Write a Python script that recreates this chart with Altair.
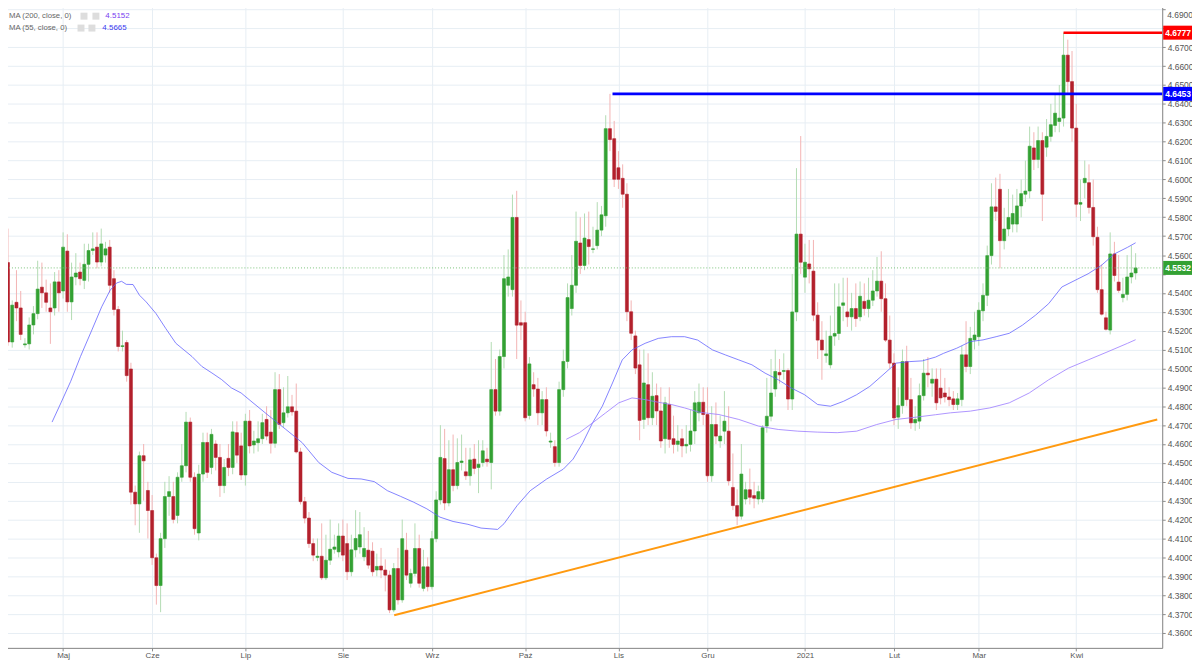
import altair as alt
import pandas as pd

# ---------------- data ----------------
open_ = [
    4.556, 4.514, 4.535, 4.532, 4.5125, 4.513, 4.523, 4.529, 4.543, 4.540,
    4.532, 4.532, 4.5458, 4.541, 4.5621, 4.5352, 4.5484, 4.5510, 4.5466, 4.5551,
    4.5624, 4.5642, 4.5563, 4.5600, 4.5642, 4.5475, 4.5312, 4.5116, 4.5137, 4.4997,
    4.4345, 4.4283, 4.4538, 4.4354, 4.4248, 4.3998, 4.3851, 4.4099, 4.4322, 4.4322,
    4.4222, 4.4424, 4.4485, 4.4716, 4.4424, 4.4129, 4.4441, 4.4608, 4.4476, 4.4600,
    4.4529, 4.4380, 4.4524, 4.4476, 4.4660, 4.4590, 4.4436, 4.4721, 4.4595, 4.4607,
    4.4628, 4.4730, 4.4663, 4.4604, 4.4888, 4.4713, 4.4765, 4.4797, 4.4774, 4.4558,
    4.4295, 4.4208, 4.4073, 4.4000, 4.4006, 4.3892, 4.3985, 4.4043, 4.4029, 4.4113,
    4.4073, 4.3924, 4.4040, 4.4055, 4.4003, 4.4038, 4.4033, 4.3933, 4.3954, 4.3933,
    4.3906, 4.3722, 4.3941, 4.3775, 4.4038, 4.3863, 4.3915, 4.4047, 4.3836, 4.3950,
    4.3845, 4.4099, 4.4304, 4.4523, 4.4288, 4.4464, 4.4380, 4.4502, 4.4453, 4.4432,
    4.4520, 4.4476, 4.4502, 4.4520, 4.4502, 4.4888, 4.4774, 4.5063, 4.5440, 4.5417,
    4.5799, 4.5242, 4.5242, 4.4751, 4.4914, 4.4891, 4.4765, 4.4835, 4.4610, 4.4586,
    4.4502, 4.4888, 4.5037, 4.5317, 4.5440, 4.5664, 4.5545, 4.5682, 4.5630, 4.5650,
    4.5732, 4.5808, 4.6269, 4.6216, 4.6062, 4.6006, 4.5922, 4.5300, 4.5172, 4.5019,
    4.4730, 4.4914, 4.4739, 4.4856, 4.4775, 4.4628, 4.4809, 4.4628, 4.4598, 4.4628,
    4.4590, 4.4598, 4.4669, 4.4765, 4.4821, 4.4756, 4.4432, 4.4703, 4.4616, 4.4668,
    4.4668, 4.4370, 4.4274, 4.4218, 4.4309, 4.4358, 4.4327, 4.4309, 4.4309, 4.4695,
    4.4747, 4.4891, 4.4979, 4.4984, 4.4989, 4.4838, 4.5299, 4.5711, 4.5483, 4.5553,
    4.5515, 4.5282, 4.5150, 4.5068, 4.5019, 4.5171, 4.5185, 4.5334, 4.5299, 4.5273,
    4.5317, 4.5273, 4.5355, 4.5317, 4.5361, 4.5410, 4.5462, 4.5369, 4.5150, 4.5028,
    4.4742, 4.4803, 4.5036, 4.4835, 4.4712, 4.4721, 4.4856, 4.4975, 4.4922, 4.4943,
    4.4896, 4.4870, 4.4849, 4.4839, 4.4809, 4.4835, 4.5072, 4.5010, 4.5151, 4.5168,
    4.5305, 4.5387, 4.5597, 4.5855, 4.5948, 4.5676, 4.5738, 4.5764, 4.5764, 4.5860,
    4.5922, 4.5939, 4.6167, 4.6106, 4.6206, 4.6171, 4.6228, 4.6286, 4.6307, 4.6325,
    4.6658, 4.6518, 4.6272, 4.5869, 4.5983, 4.5983, 4.5852, 4.5694, 4.5417, 4.5268,
    4.5203, 4.5606, 4.5457, 4.5375, 4.5392, 4.5484, 4.5505,
]
high = [
    4.574, 4.536, 4.552, 4.541, 4.516, 4.527, 4.533, 4.557, 4.556, 4.547,
    4.545, 4.551, 4.552, 4.572, 4.571, 4.556, 4.561, 4.556, 4.566, 4.566,
    4.572, 4.572, 4.574, 4.567, 4.568, 4.552, 4.533, 4.520, 4.515, 4.503,
    4.438, 4.456, 4.460, 4.440, 4.433, 4.402, 4.413, 4.440, 4.443, 4.440,
    4.445, 4.460, 4.477, 4.474, 4.445, 4.449, 4.466, 4.466, 4.468, 4.462,
    4.460, 4.452, 4.460, 4.472, 4.472, 4.466, 4.476, 4.478, 4.467, 4.472,
    4.476, 4.480, 4.478, 4.498, 4.497, 4.490, 4.496, 4.486, 4.492, 4.458,
    4.432, 4.424, 4.410, 4.410, 4.418, 4.412, 4.420, 4.412, 4.418, 4.420,
    4.418, 4.412, 4.425, 4.424, 4.416, 4.414, 4.408, 4.402, 4.405, 4.399,
    4.393, 4.397, 4.405, 4.420, 4.413, 4.394, 4.418, 4.412, 4.404, 4.400,
    4.414, 4.435, 4.470, 4.468, 4.462, 4.465, 4.463, 4.465, 4.458, 4.458,
    4.460, 4.462, 4.462, 4.458, 4.514, 4.505, 4.510, 4.560, 4.563, 4.592,
    4.594, 4.536, 4.530, 4.506, 4.498, 4.495, 4.488, 4.490, 4.466, 4.462,
    4.493, 4.510, 4.545, 4.560, 4.583, 4.580, 4.582, 4.583, 4.575, 4.588,
    4.586, 4.634, 4.6453, 4.631, 4.615, 4.608, 4.598, 4.536, 4.520, 4.510,
    4.510, 4.508, 4.498, 4.492, 4.490, 4.485, 4.490, 4.475, 4.470, 4.468,
    4.470, 4.478, 4.488, 4.492, 4.490, 4.490, 4.480, 4.482, 4.475, 4.488,
    4.480, 4.455, 4.436, 4.460, 4.440, 4.447, 4.440, 4.438, 4.470, 4.495,
    4.505, 4.510, 4.505, 4.508, 4.500, 4.550, 4.606, 4.623, 4.566, 4.568,
    4.568, 4.535, 4.525, 4.520, 4.528, 4.545, 4.545, 4.548, 4.548, 4.540,
    4.545, 4.546, 4.545, 4.548, 4.552, 4.559, 4.562, 4.545, 4.528, 4.508,
    4.490, 4.510, 4.512, 4.495, 4.480, 4.492, 4.505, 4.506, 4.500, 4.500,
    4.500, 4.495, 4.490, 4.488, 4.487, 4.512, 4.525, 4.522, 4.530, 4.535,
    4.545, 4.565, 4.598, 4.601, 4.603, 4.585, 4.595, 4.592, 4.595, 4.600,
    4.610, 4.628, 4.625, 4.628, 4.625, 4.632, 4.640, 4.645, 4.650, 4.6777,
    4.674, 4.668, 4.640, 4.600, 4.610, 4.608, 4.600, 4.575, 4.555, 4.530,
    4.572, 4.567, 4.560, 4.548, 4.560, 4.565, 4.561,
]
low = [
    4.512, 4.511, 4.525, 4.515, 4.511, 4.510, 4.518, 4.526, 4.532, 4.530,
    4.513, 4.528, 4.530, 4.537, 4.530, 4.5256, 4.544, 4.544, 4.542, 4.546,
    4.560, 4.553, 4.554, 4.556, 4.540, 4.528, 4.509, 4.509, 4.493, 4.428,
    4.417, 4.413, 4.430, 4.410, 4.396, 4.375, 4.371, 4.405, 4.422, 4.418,
    4.418, 4.440, 4.445, 4.440, 4.412, 4.409, 4.440, 4.442, 4.444, 4.446,
    4.432, 4.434, 4.443, 4.444, 4.450, 4.441, 4.438, 4.455, 4.455, 4.456,
    4.460, 4.462, 4.455, 4.458, 4.468, 4.469, 4.474, 4.475, 4.455, 4.428,
    4.418, 4.405, 4.398, 4.398, 4.388, 4.388, 4.396, 4.402, 4.400, 4.398,
    4.388, 4.390, 4.400, 4.402, 4.398, 4.394, 4.390, 4.390, 4.389, 4.382,
    4.3705, 4.371, 4.375, 4.376, 4.388, 4.384, 4.390, 4.384, 4.382, 4.382,
    4.383, 4.408, 4.428, 4.425, 4.427, 4.435, 4.436, 4.446, 4.441, 4.438,
    4.444, 4.434, 4.448, 4.448, 4.436, 4.475, 4.475, 4.500, 4.538, 4.538,
    4.505, 4.515, 4.472, 4.473, 4.485, 4.470, 4.470, 4.464, 4.458, 4.448,
    4.448, 4.485, 4.500, 4.528, 4.540, 4.550, 4.552, 4.555, 4.561, 4.563,
    4.570, 4.575, 4.615, 4.596, 4.595, 4.585, 4.525, 4.515, 4.497, 4.462,
    4.468, 4.470, 4.470, 4.470, 4.458, 4.455, 4.458, 4.455, 4.456, 4.453,
    4.455, 4.456, 4.460, 4.472, 4.470, 4.440, 4.440, 4.460, 4.458, 4.460,
    4.438, 4.425, 4.417, 4.420, 4.428, 4.428, 4.426, 4.428, 4.429, 4.466,
    4.472, 4.485, 4.492, 4.494, 4.478, 4.478, 4.525, 4.550, 4.540, 4.545,
    4.525, 4.505, 4.494, 4.503, 4.500, 4.512, 4.515, 4.525, 4.522, 4.520,
    4.522, 4.525, 4.528, 4.527, 4.533, 4.538, 4.530, 4.514, 4.500, 4.470,
    4.468, 4.476, 4.480, 4.468, 4.467, 4.468, 4.483, 4.490, 4.485, 4.478,
    4.481, 4.482, 4.480, 4.478, 4.478, 4.480, 4.498, 4.497, 4.510, 4.512,
    4.525, 4.533, 4.555, 4.578, 4.553, 4.563, 4.570, 4.572, 4.572, 4.580,
    4.588, 4.590, 4.605, 4.606, 4.578, 4.612, 4.620, 4.625, 4.625, 4.628,
    4.645, 4.620, 4.580, 4.578, 4.590, 4.582, 4.565, 4.540, 4.528, 4.520,
    4.518, 4.546, 4.540, 4.535, 4.536, 4.545, 4.547,
]
close = [
    4.514, 4.5335, 4.532, 4.518, 4.513, 4.523, 4.529, 4.542, 4.540, 4.535,
    4.530, 4.5458, 4.540, 4.5642, 4.5352, 4.5484, 4.5505, 4.5475, 4.5551, 4.5624,
    4.5633, 4.5563, 4.5659, 4.5633, 4.5440, 4.5312, 4.5116, 4.5120, 4.4962, 4.4345,
    4.4283, 4.4538, 4.4511, 4.4248, 4.3998, 4.3851, 4.4099, 4.4322, 4.4348, 4.4201,
    4.4424, 4.4485, 4.4716, 4.4424, 4.4152, 4.4441, 4.4608, 4.4450, 4.4651, 4.4529,
    4.4380, 4.4476, 4.4476, 4.4664, 4.4541, 4.4436, 4.4721, 4.4590, 4.4616, 4.4628,
    4.4713, 4.4642, 4.4604, 4.4888, 4.4704, 4.4765, 4.4797, 4.4770, 4.4558, 4.4295,
    4.4208, 4.4073, 4.4012, 4.4006, 4.3892, 4.3985, 4.4043, 4.4055, 4.4113, 4.4012,
    4.3924, 4.4040, 4.4100, 4.4120, 4.4047, 4.3959, 4.3924, 4.3952, 4.3933, 4.3906,
    4.3722, 4.3941, 4.3775, 4.4099, 4.3906, 4.3915, 4.4047, 4.3863, 4.3950, 4.3845,
    4.4099, 4.4304, 4.4529, 4.4288, 4.4464, 4.4380, 4.4502, 4.4510, 4.4432, 4.4516,
    4.4471, 4.4493, 4.4564, 4.4506, 4.4888, 4.4774, 4.5063, 4.5475, 4.5484, 4.5799,
    4.5229, 4.5229, 4.4739, 4.5024, 4.4891, 4.4765, 4.4835, 4.4669, 4.4616, 4.4502,
    4.4888, 4.5037, 4.5375, 4.5440, 4.5673, 4.5545, 4.5690, 4.5645, 4.5633, 4.5732,
    4.5813, 4.6269, 4.6211, 4.6001, 4.6001, 4.5922, 4.5300, 4.5186, 4.5002, 4.4725,
    4.4923, 4.4739, 4.4853, 4.4775, 4.4616, 4.4818, 4.4625, 4.4598, 4.4616, 4.4590,
    4.4598, 4.4669, 4.4818, 4.4821, 4.4756, 4.4432, 4.4703, 4.4642, 4.4642, 4.4721,
    4.4405, 4.4274, 4.4218, 4.4441, 4.4358, 4.4318, 4.4313, 4.4348, 4.4686, 4.4747,
    4.4870, 4.4984, 4.4966, 4.4989, 4.4838, 4.5299, 4.5711, 4.5562, 4.5562, 4.5527,
    4.5282, 4.5150, 4.5098, 4.5077, 4.5171, 4.5185, 4.5326, 4.5347, 4.5273, 4.5317,
    4.5264, 4.5382, 4.5317, 4.5361, 4.5410, 4.5462, 4.5369, 4.5150, 4.5028, 4.4738,
    4.4803, 4.5036, 4.4835, 4.4712, 4.4730, 4.4856, 4.4975, 4.4966, 4.4943, 4.4818,
    4.4844, 4.4849, 4.4835, 4.4809, 4.4839, 4.5072, 4.5010, 4.5159, 4.5177, 4.5308,
    4.5387, 4.5597, 4.5855, 4.5831, 4.5676, 4.5738, 4.5799, 4.5820, 4.5860, 4.5925,
    4.5939, 4.6176, 4.6106, 4.6206, 4.5922, 4.6228, 4.6290, 4.6351, 4.6325, 4.6658,
    4.6518, 4.6272, 4.5869, 4.5878, 4.6006, 4.5852, 4.5697, 4.5417, 4.5287, 4.5207,
    4.5606, 4.5492, 4.5413, 4.5392, 4.5484, 4.5505, 4.5532,
]

month_labels = ["Maj", "Cze", "Lip", "Sie", "Wrz", "Paź", "Lis", "Gru", "2021", "Lut", "Mar", "Kwi"]
month_index = [13, 34, 56, 79, 100, 122, 144, 165, 188, 209, 229, 252]

ma55_x = [10.4, 12.5, 14.8, 17.1, 19.8, 22.1, 24.1, 25.6, 26.8, 27.9, 29.5, 31.0, 32.6, 34.9,
          37.2, 39.6, 41.5, 43.4, 45.7, 48.1, 50.4, 52.7, 55.0, 57.8, 61.6, 65.5, 69.4, 73.3,
          76.4, 80.2, 83.3, 86.4, 89.5, 92.6, 95.7, 98.8, 101.9, 105.0, 108.5, 111.6, 115.5,
          117.0, 120.1, 123.2, 127.1, 131.0, 133.3, 135.6, 137.9, 140.2, 142.6, 144.9, 147.2,
          150.3, 153.4, 156.5, 159.6, 162.7, 166.2, 169.3, 172.4, 175.5, 178.6, 181.7, 184.8,
          187.9, 191.0, 194.0, 197.1, 200.2, 203.3, 206.4, 209.5, 212.6, 215.7, 218.8, 220.7,
          223.8, 227.0, 230.0, 233.1, 236.2, 239.3, 242.4, 245.5, 248.6, 251.7, 254.8, 257.9,
          261.0, 264.1, 266.0]
ma55_v = [4.4716, 4.4818, 4.4932, 4.5063, 4.5204, 4.5326, 4.5414, 4.5452, 4.5461, 4.5445,
          4.5444, 4.5388, 4.5352, 4.5291, 4.5212, 4.5133, 4.5098, 4.5063, 4.5011, 4.4976,
          4.4941, 4.4897, 4.4870, 4.4818, 4.4748, 4.4678, 4.4607, 4.4502, 4.4450, 4.4418,
          4.4415, 4.4401, 4.4353, 4.4323, 4.4292, 4.4257, 4.4213, 4.4190, 4.4175, 4.4155,
          4.4148, 4.4178, 4.4274, 4.4353, 4.4415, 4.4467, 4.4520, 4.4607, 4.4712, 4.4800,
          4.4923, 4.5045, 4.5098, 4.5133, 4.5159, 4.5168, 4.5168, 4.5150, 4.5098, 4.5071,
          4.5045, 4.5019, 4.4975, 4.4940, 4.4896, 4.4861, 4.4809, 4.4800, 4.4826, 4.4861,
          4.4905, 4.4966, 4.5028, 4.5036, 4.5040, 4.5060, 4.5080, 4.5107, 4.5142, 4.5151,
          4.5168, 4.5186, 4.5229, 4.5282, 4.5343, 4.5431, 4.5466, 4.5501, 4.5545, 4.5606,
          4.5641, 4.5665]
ma200_x = [131.7, 134.8, 137.9, 141.0, 144.1, 147.2, 150.3, 153.4, 156.5, 159.6, 163.1, 167.7,
           172.4, 177.0, 181.7, 186.3, 190.9, 195.6, 200.2, 204.9, 209.5, 214.2, 218.8, 222.3,
           227.0, 231.6, 236.2, 240.9, 245.5, 250.2, 254.8, 259.5, 264.1, 266.0]
ma200_v = [4.4625, 4.4660, 4.4712, 4.4765, 4.4818, 4.4844, 4.4835, 4.4821, 4.4809, 4.4791,
           4.4768, 4.4756, 4.4730, 4.4695, 4.4677, 4.4668, 4.4663, 4.4660, 4.4668, 4.4703,
           4.4730, 4.4742, 4.4755, 4.4765, 4.4774, 4.4791, 4.4818, 4.4870, 4.4940, 4.5002,
           4.5045, 4.5089, 4.5133, 4.5152]

trend_x = [91.1, 271.1]
trend_v = [4.3694, 4.4730]

level_values = [4.6777, 4.6453]
level_start = [249.0, 142.6]
level_colors = ["#ff0000", "#0000ff"]
last_price = [4.5532]

ma_names = ["MA (200, close, 0)", "MA (55, close, 0)"]
ma_last = ["4.5152", "4.5665"]

y_ticks = [4.36, 4.37, 4.38, 4.39, 4.40, 4.41, 4.42, 4.43, 4.44, 4.45, 4.46, 4.47,
           4.48, 4.49, 4.50, 4.51, 4.52, 4.53, 4.54, 4.55, 4.56, 4.57, 4.58, 4.59,
           4.60, 4.61, 4.62, 4.63, 4.64, 4.65, 4.66, 4.67, 4.68, 4.69]
top_tick_label = ["4.6900"]
hidden_tick_labels = [4.68, 4.55, 4.69]   # covered by price tags / drawn separately

assert len(open_) == len(high) == len(low) == len(close)
assert len(ma55_x) == len(ma55_v) and len(ma200_x) == len(ma200_v)

# ---------------- styling ----------------
W, H = 1170, 650
FONT = "Liberation Sans"
GRID = "#e7eef4"
UP, DOWN = "#33a133", "#b3202c"
WICK_UP, WICK_DOWN = "#b3dcb3", "#f3b3b3"

xs = alt.Scale(domain=[-0.7, 271.1], nice=False, zero=False)
ys = alt.Scale(domain=[4.3521, 4.6938], nice=False, zero=False)

label_expr = "[" + ",".join("'%s'" % m for m in month_labels) + "][indexof([" + \
    ",".join(str(v) for v in month_index) + "], datum.value)]"
hide_test = " || ".join("abs(datum.value - %s) < 0.0005" % v for v in hidden_tick_labels)
y_label_expr = "(%s) ? '' : format(datum.value, '.4f')" % hide_test

x_axis = alt.Axis(values=month_index, labelExpr=label_expr, grid=True, gridColor=GRID,
                  domainColor="#8a8a8a", tickColor="#8a8a8a", tickSize=3, labelFontSize=8,
                  labelColor="#555555", labelPadding=1, labelFont=FONT, title=None,
                  labelFlush=False)
y_axis = alt.Axis(orient="right", values=y_ticks, labelExpr=y_label_expr, grid=True,
                  gridColor=GRID, domainColor="#8a8a8a", tickColor="#8a8a8a", tickSize=3,
                  labelFontSize=8.5, labelColor="#555555", labelPadding=2, labelFont=FONT,
                  title=None, labelFlush=False)


def X(field):
    return alt.X(field, type="quantitative", scale=xs, axis=x_axis)


def Y(field):
    return alt.Y(field, type="quantitative", scale=ys, axis=y_axis)


candles = pd.DataFrame({"i": list(range(len(close))), "o": open_, "h": high, "l": low, "c": close})
up_test = "datum.c >= datum.o"

wicks = alt.Chart(candles).mark_rule(strokeWidth=1).encode(
    x=X("i"), y=Y("l"), y2="h",
    color=alt.condition(up_test, alt.value(WICK_UP), alt.value(WICK_DOWN)),
)
bodies = alt.Chart(candles).mark_bar(size=3, strokeWidth=0.6).encode(
    x=X("i"), y=Y("o"), y2="c",
    color=alt.condition(up_test, alt.value(UP), alt.value(DOWN)),
    stroke=alt.condition(up_test, alt.value(UP), alt.value(DOWN)),
)

ma55 = alt.Chart(pd.DataFrame({"i": ma55_x, "v": ma55_v})).mark_line(
    color="#5a5aff", strokeWidth=1, opacity=0.75).encode(x=X("i"), y=Y("v"))
ma200 = alt.Chart(pd.DataFrame({"i": ma200_x, "v": ma200_v})).mark_line(
    color="#9a7aff", strokeWidth=1, opacity=0.8).encode(x=X("i"), y=Y("v"))

trend = alt.Chart(pd.DataFrame({"i": trend_x, "v": trend_v})).mark_line(
    color="#ff9a10", strokeWidth=2).encode(x=X("i"), y=Y("v"))

price_line = alt.Chart(pd.DataFrame({"v": last_price})).mark_rule(
    color="#7cc47c", strokeWidth=1, strokeDash=[1, 2]).encode(
    x=alt.value(0), x2=alt.value(W), y=Y("v"))

levels_df = pd.DataFrame({"i": level_start, "v": level_values, "col": level_colors})
levels = alt.Chart(levels_df).mark_rule(strokeWidth=2.6).encode(
    x=X("i"), x2=alt.value(W), y=Y("v"), color=alt.Color("col:N", scale=None))

tags_df = pd.DataFrame({"v": level_values + last_price, "col": level_colors + ["#33a133"]})
tag_boxes = alt.Chart(tags_df).transform_calculate(
    top="datum.v + 0.0037", bot="datum.v - 0.0037").mark_rect().encode(
    x=alt.value(W + 1), x2=alt.value(W + 31), y=Y("top"), y2="bot",
    color=alt.Color("col:N", scale=None))
tag_text = alt.Chart(tags_df).mark_text(
    color="white", fontSize=8.5, fontWeight="bold", font=FONT, align="center",
    baseline="middle").encode(
    x=alt.value(W + 16), y=Y("v"), text=alt.Text("v:Q", format=".4f"))

# top y label, kept inside the visible page area
top_label = alt.Chart(pd.DataFrame({"t": top_tick_label})).mark_text(
    align="left", baseline="middle", fontSize=8.5, color="#555555", font=FONT).encode(
    x=alt.value(W + 5), y=alt.value(13), text="t:N")

legend_layers = []
legend_rows = [(14, 81, 93, 106, "#7a3ff0"), (26, 78, 89, 103, "#3c3cf0")]
for k, (yy, ix1, ix2, vx, col) in enumerate(legend_rows):
    d = pd.DataFrame({"name": [ma_names[k]], "val": [ma_last[k]]})
    legend_layers.append(alt.Chart(d).mark_text(
        align="left", baseline="middle", fontSize=7.8, color="#666666", font=FONT).encode(
        x=alt.value(9), y=alt.value(yy), text="name:N"))
    for ix in (ix1, ix2):
        legend_layers.append(alt.Chart(d).mark_rect(color="#dddddd").encode(
            x=alt.value(ix), x2=alt.value(ix + 7), y=alt.value(yy - 3.5), y2=alt.value(yy + 3.5)))
    legend_layers.append(alt.Chart(d).mark_text(
        align="left", baseline="middle", fontSize=8, color=col, font=FONT).encode(
        x=alt.value(vx), y=alt.value(yy), text="val:N"))

chart = alt.layer(
    wicks, bodies, ma55, ma200, trend, price_line, levels, tag_boxes, tag_text, top_label,
    *legend_layers
).properties(
    width=W, height=H,
    autosize=alt.AutoSizeParams(type="none"),
    padding={"left": -8, "top": -8, "right": 30, "bottom": 12},
).configure_view(stroke=None).configure(font=FONT, background="white")

chart.save("out.html", embed_options={"renderer": "svg", "actions": False})
